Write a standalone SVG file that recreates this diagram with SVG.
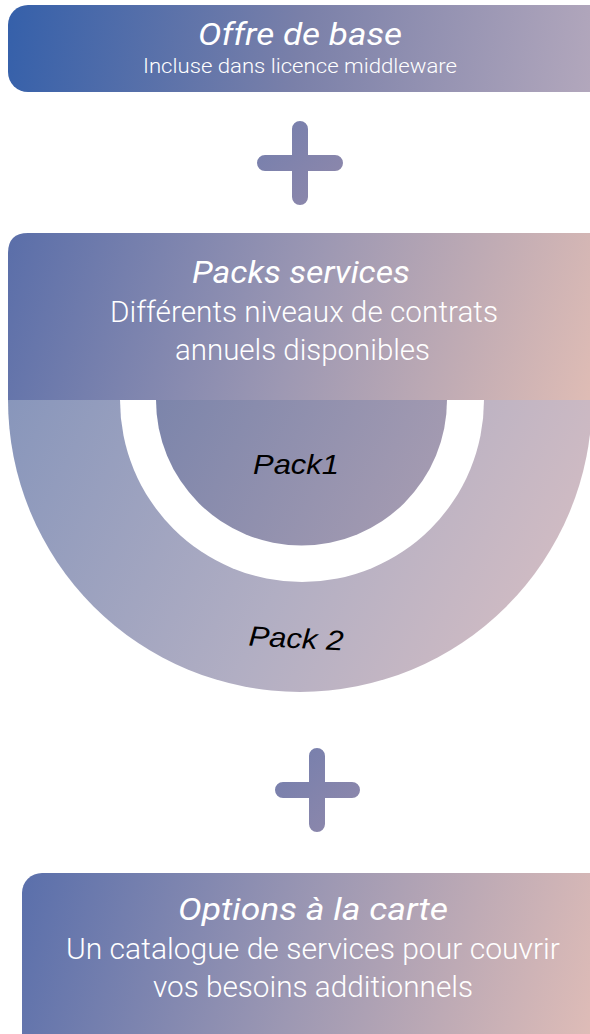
<svg xmlns="http://www.w3.org/2000/svg" width="590" height="1034" viewBox="0 0 590 1034">
<defs>
<linearGradient id="gTop" gradientUnits="userSpaceOnUse" x1="8" y1="5" x2="590" y2="92">
<stop offset="0" stop-color="#3560aa"/><stop offset="0.5" stop-color="#7a80a9"/><stop offset="1" stop-color="#b2a7bc"/>
</linearGradient>
<linearGradient id="gPacks" gradientUnits="userSpaceOnUse" x1="8" y1="233" x2="590" y2="420">
<stop offset="0" stop-color="#5a6ea9"/><stop offset="0.5" stop-color="#9d98b3"/><stop offset="1" stop-color="#e0bdb5"/>
</linearGradient>
<linearGradient id="gOuter" gradientUnits="userSpaceOnUse" x1="8" y1="400" x2="590" y2="692">
<stop offset="0" stop-color="#8896bb"/><stop offset="0.5" stop-color="#b1aec3"/><stop offset="1" stop-color="#dbc0c3"/>
</linearGradient>
<linearGradient id="gInner" gradientUnits="userSpaceOnUse" x1="156" y1="400" x2="447" y2="545">
<stop offset="0" stop-color="#7c85ab"/><stop offset="1" stop-color="#aa9eb2"/>
</linearGradient>
<linearGradient id="gBottom" gradientUnits="userSpaceOnUse" x1="22" y1="873" x2="590" y2="1034">
<stop offset="0" stop-color="#5a6fab"/><stop offset="0.5" stop-color="#9d98b3"/><stop offset="1" stop-color="#debcb7"/>
</linearGradient>
<linearGradient id="gPlus" x1="0" y1="0" x2="1" y2="1">
<stop offset="0" stop-color="#767fad"/><stop offset="1" stop-color="#8e88ab"/>
</linearGradient>
</defs>
<style>
.title{font-family:Roboto,"Liberation Sans",sans-serif;font-style:italic;font-weight:400;fill:#ffffff;text-anchor:middle}
.sub{font-family:Roboto,"Liberation Sans",sans-serif;font-weight:300;fill:#ffffff;text-anchor:middle}
.pack{font-family:"Liberation Sans",Arial,sans-serif;font-style:italic;fill:#000000;text-anchor:middle;font-size:28px}
.plus{stroke:url(#gPlus);stroke-width:16;stroke-linecap:round;fill:none}
</style>

<g id="offre-de-base">
<rect x="8" y="5" width="600" height="87" rx="20" fill="url(#gTop)"/>
<text class="title" x="300" y="45" font-size="32" textLength="204" lengthAdjust="spacingAndGlyphs">Offre de base</text>
<text class="sub" x="300" y="73" font-size="20" textLength="314" lengthAdjust="spacingAndGlyphs">Incluse dans licence middleware</text>
</g>

<g id="plus-1">
<path class="plus" d="M300 129 V197 M265 163 H335"/>
</g>

<g id="packs-services">
<path d="M8 400 V253 Q8 233 28 233 H610 V400 Z" fill="url(#gPacks)"/>
<text class="title" x="301" y="283" font-size="31" textLength="218" lengthAdjust="spacingAndGlyphs">Packs services</text>
<text class="sub" x="304" y="322" font-size="29" textLength="388" lengthAdjust="spacingAndGlyphs">Différents niveaux de contrats</text>
<text class="sub" x="302.5" y="360" font-size="29" textLength="255" lengthAdjust="spacingAndGlyphs">annuels disponibles</text>
</g>

<g id="pack-2">
<path d="M8 400 A292 292 0 0 0 592 400 Z" fill="url(#gOuter)"/>
<path d="M120 400 A182 182 0 0 0 484 400 Z" fill="#ffffff"/>
<text class="pack" x="296" y="648" transform="rotate(3 296 640)" textLength="95" lengthAdjust="spacingAndGlyphs">Pack 2</text>
</g>

<g id="pack-1">
<path d="M156 400 A145.5 145.5 0 0 0 447 400 Z" fill="url(#gInner)"/>
<text class="pack" x="296" y="474" textLength="86" lengthAdjust="spacingAndGlyphs">Pack1</text>
</g>

<g id="plus-2">
<path class="plus" d="M317 756 V824 M283 790 H352"/>
</g>

<g id="options-a-la-carte">
<rect x="22" y="873" width="600" height="200" rx="20" fill="url(#gBottom)"/>
<text class="title" x="313" y="920" font-size="31" textLength="270" lengthAdjust="spacingAndGlyphs">Options à la carte</text>
<text class="sub" x="313" y="959" font-size="29" textLength="494" lengthAdjust="spacingAndGlyphs">Un catalogue de services pour couvrir</text>
<text class="sub" x="313" y="997" font-size="29" textLength="320" lengthAdjust="spacingAndGlyphs">vos besoins additionnels</text>
</g>

<g id="connectors"></g>
</svg>
